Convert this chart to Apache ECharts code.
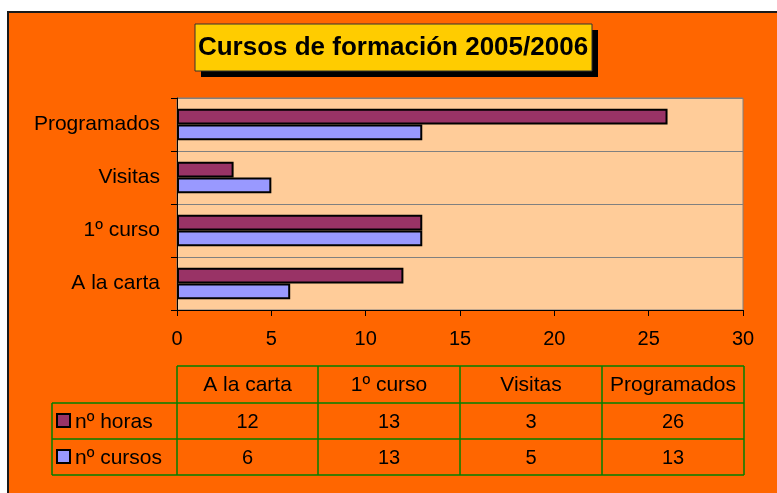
<!DOCTYPE html>
<html>
<head>
<meta charset="utf-8">
<script src="https://cdn.jsdelivr.net/npm/echarts@6/dist/echarts.min.js"></script>
<style>
  html, body { margin: 0; padding: 0; background: #fff; overflow: hidden; }
  #frame {
    position: fixed; left: 7px; top: 11px; width: 2000px; height: 2000px;
    background: #ff6600; border-left: 2px solid #1a1a1a; border-top: 2px solid #1a1a1a;
  }
  #chart { position: absolute; left: 0; top: 0; width: 777px; height: 493px; }
</style>
</head>
<body>
<div id="frame"></div>
<div id="chart"></div>
<script>
const categories = ['A la carta', '1º curso', 'Visitas', 'Programados'];
const horas = [12, 13, 3, 26];
const cursos = [6, 13, 5, 13];
const seriesNames = ['nº horas', 'nº cursos'];
const xTicks = [0, 30, 5];

const FONT = '"Liberation Sans", Arial, sans-serif';
const MAROON = '#993366';
const LAVENDER = '#9999ff';
const GREEN = '#008000';

// data table under the plot
const colX = [177, 318, 460, 602, 744];
const rowY = [366, 403, 439, 475];
const tableLeft = 52;

function buildTable() {
  const els = [];
  const line = (x1, y1, x2, y2) => els.push({
    type: 'line',
    shape: { x1, y1, x2, y2 },
    style: { stroke: GREEN, lineWidth: 1.5 }
  });
  const text = (x, y, t, size, align) => els.push({
    type: 'text',
    x, y,
    style: { text: t, font: size + 'px ' + FONT, fill: '#000', align: align || 'center', verticalAlign: 'middle' }
  });

  // horizontal lines
  line(colX[0], rowY[0], colX[4], rowY[0]);
  for (let r = 1; r < rowY.length; r++) line(tableLeft, rowY[r], colX[4], rowY[r]);
  // vertical lines
  line(tableLeft, rowY[1], tableLeft, rowY[3]);
  colX.forEach(x => line(x, rowY[0], x, rowY[3]));

  categories.forEach((c, i) => {
    const cx = (colX[i] + colX[i + 1]) / 2;
    text(cx, (rowY[0] + rowY[1]) / 2 + 1, c, 21);
    text(cx, (rowY[1] + rowY[2]) / 2 + 1, String(horas[i]), 20);
    text(cx, (rowY[2] + rowY[3]) / 2 + 1, String(cursos[i]), 20);
  });

  [MAROON, LAVENDER].forEach((col, r) => {
    const cy = (rowY[r + 1] + rowY[r + 2]) / 2;
    els.push({
      type: 'rect',
      shape: { x: 57, y: cy - 7, width: 13, height: 13 },
      style: { fill: col, stroke: '#000', lineWidth: 2 }
    });
    text(75, cy + 1, seriesNames[r], 21, 'left');
  });
  return els;
}

const chart = echarts.init(document.getElementById('chart'));
chart.setOption({
  backgroundColor: 'transparent',
  animation: false,
  grid: {
    left: 177, right: 34, top: 98, bottom: 183,
    show: true,
    backgroundColor: '#ffcc99',
    borderColor: '#808080',
    borderWidth: 1
  },
  xAxis: {
    type: 'value',
    min: xTicks[0], max: xTicks[1], interval: xTicks[2],
    axisLine: { show: true, lineStyle: { color: '#000' } },
    axisTick: { show: true, length: 6, lineStyle: { color: '#000' } },
    axisLabel: { fontFamily: FONT, fontSize: 20, color: '#000', margin: 19 },
    splitLine: { show: false }
  },
  yAxis: {
    type: 'category',
    data: categories,
    axisLine: { show: true, lineStyle: { color: '#000' } },
    axisTick: { show: true, length: 6, lineStyle: { color: '#000' } },
    axisLabel: { fontFamily: FONT, fontSize: 21, color: '#000', margin: 17 },
    splitLine: { show: true, lineStyle: { color: '#808080', width: 1 } }
  },
  series: [
    {
      name: seriesNames[0], type: 'bar', data: horas,
      barGap: '0%', barCategoryGap: '41%',
      itemStyle: { color: MAROON, borderColor: '#000', borderWidth: 2 }
    },
    {
      name: seriesNames[1], type: 'bar', data: cursos,
      barGap: '0%', barCategoryGap: '41%',
      itemStyle: { color: LAVENDER, borderColor: '#000', borderWidth: 2 }
    }
  ],
  graphic: [
    {
      type: 'rect',
      shape: { x: 201, y: 30, width: 397, height: 47 },
      style: { fill: '#000' }
    },
    {
      type: 'rect',
      shape: { x: 195, y: 24, width: 397, height: 47 },
      style: { fill: '#ffcc00', stroke: '#333', lineWidth: 1 }
    },
    {
      type: 'text',
      x: 393, y: 48,
      style: {
        text: 'Cursos de formación 2005/2006',
        font: 'bold 26px ' + FONT,
        fill: '#000', align: 'center', verticalAlign: 'middle'
      }
    },
    ...buildTable()
  ]
});
</script>
</body>
</html>
